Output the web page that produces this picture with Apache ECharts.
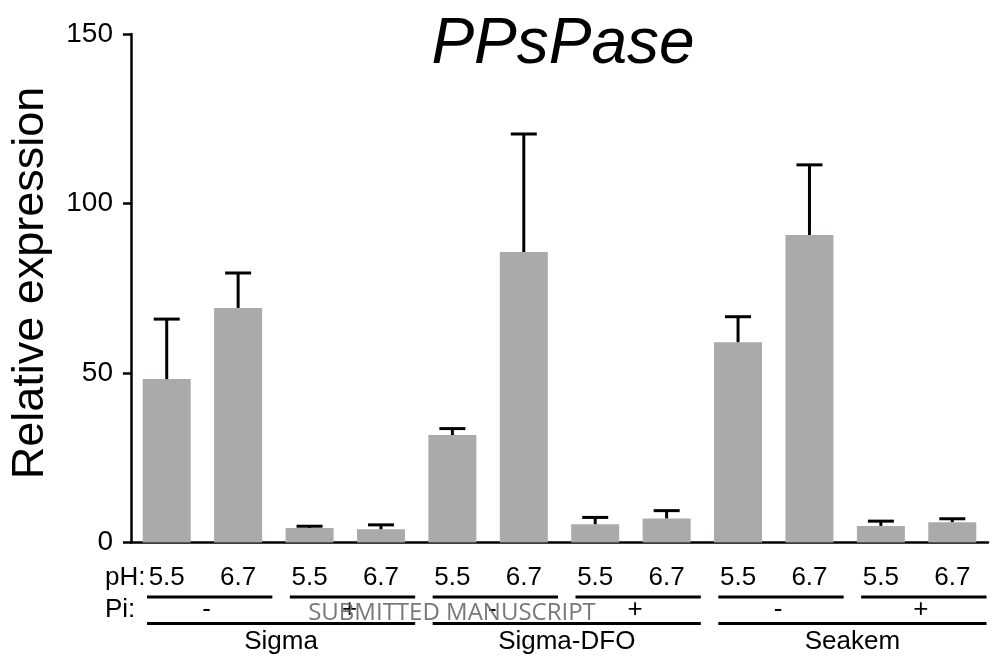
<!DOCTYPE html>
<html><head><meta charset="utf-8">
<script src="https://cdn.jsdelivr.net/npm/echarts@6/dist/echarts.min.js"></script>
<style>html,body{margin:0;padding:0;background:#fff}#c{width:993px;height:663px}</style>
</head><body><div id="c"></div>
<script>
const categories = ['5.5','6.7','5.5','6.7','5.5','6.7','5.5','6.7','5.5','6.7','5.5','6.7'];
const values = [48.2, 69.2, 4.3, 3.9, 31.7, 85.7, 5.4, 7.1, 59.1, 90.7, 4.9, 6.0];
const errors = [17.7, 10.3, 0.5, 1.3, 1.9, 34.8, 2.0, 2.3, 7.5, 20.7, 1.4, 1.0];
const piLabels = ['-','+','-','+','-','+'];
const groupLabels = ['Sigma','Sigma-DFO','Seakem'];
const titleText = 'PPsPase';
const yName = 'Relative expression';
const watermark = 'SUBMITTED MANUSCRIPT';

const FONT = '"Liberation Sans", Arial, sans-serif';
const chart = echarts.init(document.getElementById('c'), null, {renderer:'canvas'});
const axisStroke = {color:'#000', width:2.5};
chart.setOption({
  animation:false,
  grid:{left:131, right:5, top:34, bottom:120.5},
  xAxis:{type:'category', data:categories,
    axisLine:{lineStyle:axisStroke},
    axisTick:{alignWithLabel:true, length:8, lineStyle:axisStroke},
    axisLabel:{color:'#000', fontSize:26, fontFamily:FONT, margin:35.5, verticalAlign:'middle', interval:0}},
  yAxis:{type:'value', min:0, max:150, interval:50,
    axisLine:{show:true, lineStyle:axisStroke},
    axisTick:{show:true, length:8, lineStyle:axisStroke},
    splitLine:{show:false},
    axisLabel:{color:'#000', fontSize:28, fontFamily:FONT, margin:18}},
  series:[
    {type:'bar', data:values, barWidth:48, itemStyle:{color:'#a8abaa'}, z:2},
    {type:'custom', data:values.map((v,i)=>[i,v,errors[i]]), encode:{x:0,y:1}, z:3,
      renderItem:function(params, api){
        const i = api.value(0), v = api.value(1), e = api.value(2);
        const p0 = api.coord([i, v]), p1 = api.coord([i, v+e]);
        const hw = 13;
        return {type:'group', children:[
          {type:'line', shape:{x1:p0[0],y1:p0[1],x2:p1[0],y2:p1[1]}, style:{stroke:'#000',lineWidth:3}},
          {type:'line', shape:{x1:p1[0]-hw,y1:p1[1],x2:p1[0]+hw,y2:p1[1]}, style:{stroke:'#000',lineWidth:3}}
        ]};
      }}
  ]
});

const cx = categories.map((c,i)=>chart.convertToPixel({xAxisIndex:0}, i));
const cw = cx[1]-cx[0];
const g = [];
const txt = (x,y,t,size,extra)=>Object.assign({type:'text', x:x, y:y, z:10,
  style:Object.assign({text:t, fontSize:size, fontFamily:FONT, fill:'#000', align:'center', verticalAlign:'middle'}, extra||{})});
const line = (x1,x2,y)=>({type:'line', z:10, shape:{x1:x1,y1:y,x2:x2,y2:y}, style:{stroke:'#000', lineWidth:3}});
for (let k=0;k<6;k++){
  const s = cx[2*k]-cw/2;
  const x1 = s+16, x2 = s+2*cw-1.5;
  g.push(line(x1,x2,597));
  g.push(txt((x1+x2)/2-3, 610, piLabels[k], 26));
}
for (let k=0;k<3;k++){
  const s = cx[4*k]-cw/2;
  const x1 = s+16, x2 = s+4*cw-1.5;
  g.push(line(x1,x2,623.5));
  g.push(txt((x1+x2)/2, 642, groupLabels[k], 26));
}
g.push(txt(105, 578, 'pH:', 26, {align:'left'}));
g.push(txt(105, 610, 'Pi:', 26, {align:'left'}));
g.push(txt(563, 45, titleText, 64, {fontStyle:'italic'}));
const yt = txt(31, 283, yName, 45);
yt.rotation = Math.PI/2;
g.push(yt);
g.push(txt(452, 613, watermark, 24, {fontFamily:'"Open Sans", sans-serif', fill:'rgba(105,105,105,0.9)'}));
g[g.length-1].z = 20;
chart.setOption({graphic:g});
</script>
</body></html>
